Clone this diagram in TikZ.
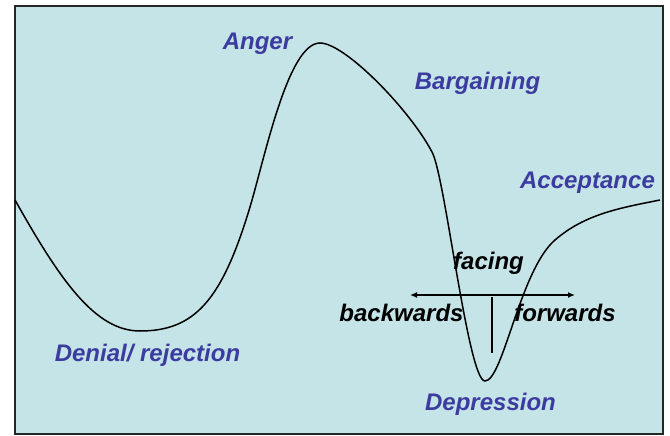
\documentclass[tikz,border=0pt]{standalone}
\usepackage{fontspec}
\setmainfont{Liberation Sans}
\usetikzlibrary{arrows.meta}
\definecolor{bgc}{RGB}{197,228,231}
\definecolor{lblue}{RGB}{60,60,160}
\tikzset{
  stage/.style={font=\fontsize{24}{28}\selectfont\bfseries\itshape, text=lblue, anchor=base, inner sep=0pt},
  dirlab/.style={font=\fontsize{24}{28}\selectfont\bfseries\itshape, text=black, anchor=base, inner sep=0pt},
  curve/.style={line width=1.5pt, black},
  dirarrow/.style={line width=1.5pt, black, {Latex[length=7pt,width=6pt]}-{Latex[length=7pt,width=6pt]}}
}
\begin{document}
\begin{tikzpicture}[x=1pt,y=-1pt]
\useasboundingbox (0,0) rectangle (670,436);
\draw[fill=bgc, draw=black!85, line width=2pt] (15,6) rectangle (663,434);
\draw[curve] (15,200) .. controls (60,280) and (95,331) .. (140,331)
  .. controls (195,331) and (222,300) .. (250,207)
  .. controls (265,157) and (288,43) .. (320,43)
  .. controls (345,43) and (410,110) .. (432,152)
  .. controls (445,175) and (468,381) .. (485,381)
  .. controls (503,381) and (520,270) .. (555,240)
  .. controls (585,214) and (620,208) .. (660,200);
\node[stage] (anger) at (257.5,50) {Anger};
\node[stage] (barg) at (477.5,90) {Bargaining};
\node[stage] (acc) at (587.5,188) {Acceptance};
\node[stage] (den) at (147.5,361) {Denial/ rejection};
\node[stage] (dep) at (490.5,410) {Depression};
\node[dirlab] (facing) at (488.5,269) {facing};
\node[dirlab] (back) at (401.5,321) {backwards};
\node[dirlab] (fwd) at (565,321) {forwards};
\coordinate (aL) at (410,295);
\coordinate (aR) at (575,295);
\coordinate (vT) at (492,297);
\coordinate (vB) at (492,353);
\draw[dirarrow] (aL) -- (aR);
\draw[line width=1.5pt] (vT) -- (vB);
\end{tikzpicture}
\end{document}
